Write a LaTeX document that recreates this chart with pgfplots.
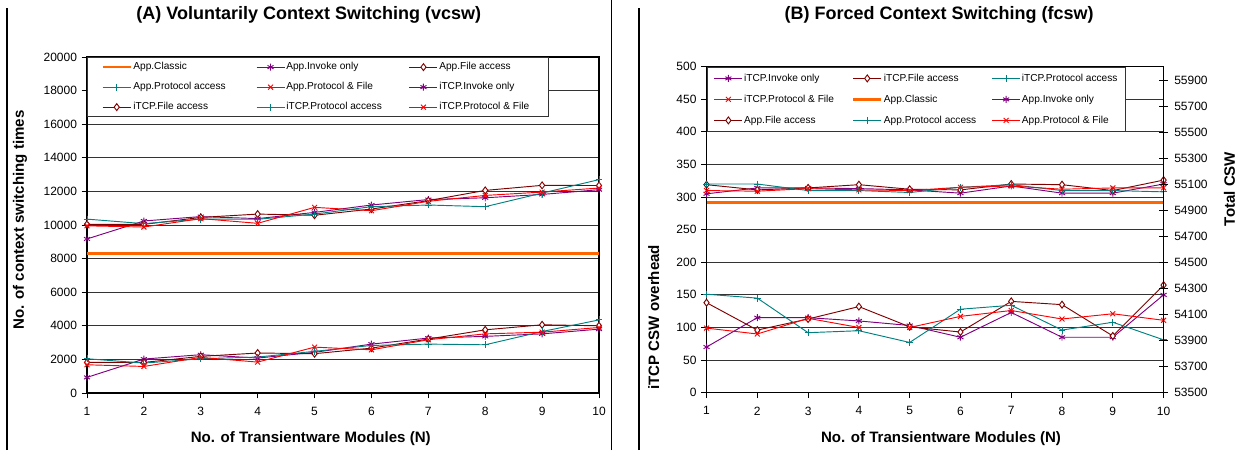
\documentclass[border=0pt]{standalone}
\usepackage{fontspec}
\setmainfont{Liberation Sans}
\usepackage{pgfplots}
\usepackage{pgfplotstable}
\pgfplotsset{compat=1.18}
\definecolor{cpur}{HTML}{800080}
\definecolor{cdred}{HTML}{800000}
\definecolor{cteal}{HTML}{008080}
\definecolor{cred}{HTML}{FF0000}
\definecolor{corange}{HTML}{FF6600}

\pgfplotstableread{
x ainv afile aprot apf iinv ifile iprot ipf
1 9170 10040 10350 9950 930 1820 2040 1680
2 10240 10040 10080 9880 2020 1820 1780 1580
3 10500 10450 10350 10380 2280 2180 2040 2120
4 10380 10650 10340 10100 2080 2380 2140 1840
5 10750 10580 10650 11050 2420 2340 2480 2730
6 11190 10950 11090 10850 2910 2670 2830 2570
7 11515 11450 11190 11410 3270 3210 2910 3170
8 11620 12060 11090 11760 3370 3760 2870 3520
9 11820 12360 11900 11960 3520 4060 3660 3620
10 12100 12350 12700 12200 3800 4000 4350 3900
}\tblA

\pgfplotstableread{
x iinv ifile iprot ipf ainv afile aprot apf
1 70 138 151 99 305 319 320 310
2 115 96 145 90 314 311 320 309
3 115 113 92 114 314 314 310 313
4 110 132 95 100 313 319 310 311
5 103 101 77 100 311 312 307 310
6 85 93 128 117 306 311 315 315
7 123 140 134 126 317 320 319 317
8 85 135 96 113 306 319 310 312
9 85 87 108 121 306 310 310 314
10 150 165 81 111 320 326 308 314
}\tblB

\newcommand{\LA}[1]{\makebox[91pt][l]{#1}}
\newcommand{\LC}[1]{\makebox[70pt][l]{#1}}
\newcommand{\LB}[1]{\makebox[79.8pt][l]{#1}}

\pgfplotsset{
  base/.style={
    scale only axis, xmin=1, xmax=10, xtick={1,...,10},
    tick label style={font=\fontsize{9}{10}\selectfont},
    /pgf/number format/assume math mode=true,
    /pgf/number format/1000 sep={},
    scaled y ticks=false,
    axis line style={black, line width=0.8pt},
    tick style={black, line width=0.6pt},
    major tick length=4pt,
    xtick pos=bottom, ytick pos=left,
    tick align=outside,
    xticklabel style={yshift=-3pt},
    ymajorgrids, grid style={black!80, line width=0.6pt},
    label style={font=\fontsize{11.3}{13}\selectfont\bfseries},
    title style={font=\fontsize{13.5}{15}\selectfont\bfseries},
    legend columns=3,
    legend cell align=left,
    legend image code/.code={\draw[mark repeat=2,mark phase=2] plot coordinates {(0pt,0pt)(10.5pt,0pt)(21pt,0pt)};},
    legend style={font=\fontsize{7.6}{8}\selectfont, draw=black!80, fill=white, line width=0.6pt,
      anchor=north west, at={(0,1)}, column sep=0pt,
      nodes={inner xsep=1pt, inner ysep=1.5pt, text height=6pt, text depth=2pt}},
    every axis plot/.append style={line width=0.7pt, mark size=2.6pt},
  },
  spur/.style={cpur, mark=asterisk, mark options={solid}},
  sdred/.style={cdred, mark=diamond*, mark options={fill=white, solid}},
  steal/.style={cteal, mark=+, mark options={solid}},
  sred/.style={cred, mark=x, mark options={solid}},
  sorange/.style={corange, line width=2pt, no marks},
}

\begin{document}
\begin{tikzpicture}
\useasboundingbox (0,0) rectangle (929.25pt,337.5pt);
\draw[black, line width=0.9pt] (5.25pt,0) -- (5.25pt,331.5pt);
\draw[black, line width=0.9pt] (458.5pt,0) -- (458.5pt,337.5pt);
\draw[black, line width=0.9pt] (479.25pt,0) -- (479.25pt,331.5pt);

\begin{axis}[base, at={(65.25pt,42.75pt)}, anchor=south west, width=384pt, height=252pt,
  ymin=0, ymax=20000, ytick={0,2000,...,20000},
  title={(A) Voluntarily Context Switching (vcsw)},
  title style={at={(axis description cs:0.433,1.101)}, anchor=center},
  xlabel={No. of Transientware Modules (N)},
  xlabel style={at={(axis description cs:0.437,-0.137)}, anchor=center},
  ylabel={No. of context switching times},
  ylabel style={at={(axis description cs:-0.131,0.515)}, anchor=center},
  legend style={inner xsep=10.5pt, inner ysep=1.8pt, row sep=4pt}]
\addplot[sorange] coordinates {(1,8300) (10,8300)};
\addlegendentry{\LA{App.Classic}}
\addplot[spur] table[x=x,y=ainv] {\tblA};
\addlegendentry{\LA{App.Invoke only}}
\addplot[sdred] table[x=x,y=afile] {\tblA};
\addlegendentry{\LC{App.File access}}
\addplot[steal] table[x=x,y=aprot] {\tblA};
\addlegendentry{\LA{App.Protocol access}}
\addplot[sred] table[x=x,y=apf] {\tblA};
\addlegendentry{\LA{App.Protocol \& File}}
\addplot[spur] table[x=x,y=iinv] {\tblA};
\addlegendentry{\LC{iTCP.Invoke only}}
\addplot[sdred] table[x=x,y=ifile] {\tblA};
\addlegendentry{\LA{iTCP.File access}}
\addplot[steal] table[x=x,y=iprot] {\tblA};
\addlegendentry{\LA{iTCP.Protocol access}}
\addplot[sred] table[x=x,y=ipf] {\tblA};
\addlegendentry{\LC{iTCP.Protocol \& File}}
\end{axis}

\begin{axis}[base, at={(529.9pt,43pt)}, anchor=south west, width=342.8pt, height=244.5pt,
  ymin=0, ymax=500, ytick={0,50,...,500},
  title={(B) Forced Context Switching (fcsw)},
  title style={at={(axis description cs:0.509,1.134)}, anchor=center},
  xlabel={No. of Transientware Modules (N)},
  xlabel style={at={(axis description cs:0.513,-0.142)}, anchor=center},
  ylabel={iTCP CSW overhead},
  ylabel style={at={(axis description cs:-0.1155,0.231)}, anchor=center},
  legend style={inner xsep=5.25pt, inner ysep=3pt, row sep=4.75pt}]
\addplot[spur] table[x=x,y=iinv] {\tblB};
\addlegendentry{\LB{iTCP.Invoke only}}
\addplot[sdred] table[x=x,y=ifile] {\tblB};
\addlegendentry{\LB{iTCP.File access}}
\addplot[steal] table[x=x,y=iprot] {\tblB};
\addlegendentry{iTCP.Protocol access}
\addplot[sred] table[x=x,y=ipf] {\tblB};
\addlegendentry{\LB{iTCP.Protocol \& File}}
\addplot[sorange] coordinates {(1,292) (10,292)};
\addlegendentry{\LB{App.Classic}}
\addplot[spur] table[x=x,y=ainv] {\tblB};
\addlegendentry{App.Invoke only}
\addplot[sdred] table[x=x,y=afile] {\tblB};
\addlegendentry{\LB{App.File access}}
\addplot[steal] table[x=x,y=aprot] {\tblB};
\addlegendentry{\LB{App.Protocol access}}
\addplot[sred] table[x=x,y=apf] {\tblB};
\addlegendentry{App.Protocol \& File}
\end{axis}

\begin{axis}[scale only axis, at={(529.9pt,43pt)}, anchor=south west, width=342.8pt, height=244.5pt,
  xmin=1, xmax=10, ymin=53500, ymax=56008,
  axis x line=none, axis y line*=right,
  ytick={53500,53700,...,55900},
  tick label style={font=\fontsize{9}{10}\selectfont},
  /pgf/number format/assume math mode=true,
  /pgf/number format/1000 sep={},
  scaled y ticks=false,
  axis line style={black, line width=0.8pt},
  tick style={black, line width=0.6pt},
  tick align=center, major tick length=6.5pt,
  yticklabel style={xshift=1.25pt},
  ylabel={Total CSW},
  label style={font=\fontsize{11.3}{13}\selectfont\bfseries},
  ylabel style={at={(axis description cs:1.144,0.625)}, anchor=center, rotate=0}]
\end{axis}
\end{tikzpicture}
\end{document}
